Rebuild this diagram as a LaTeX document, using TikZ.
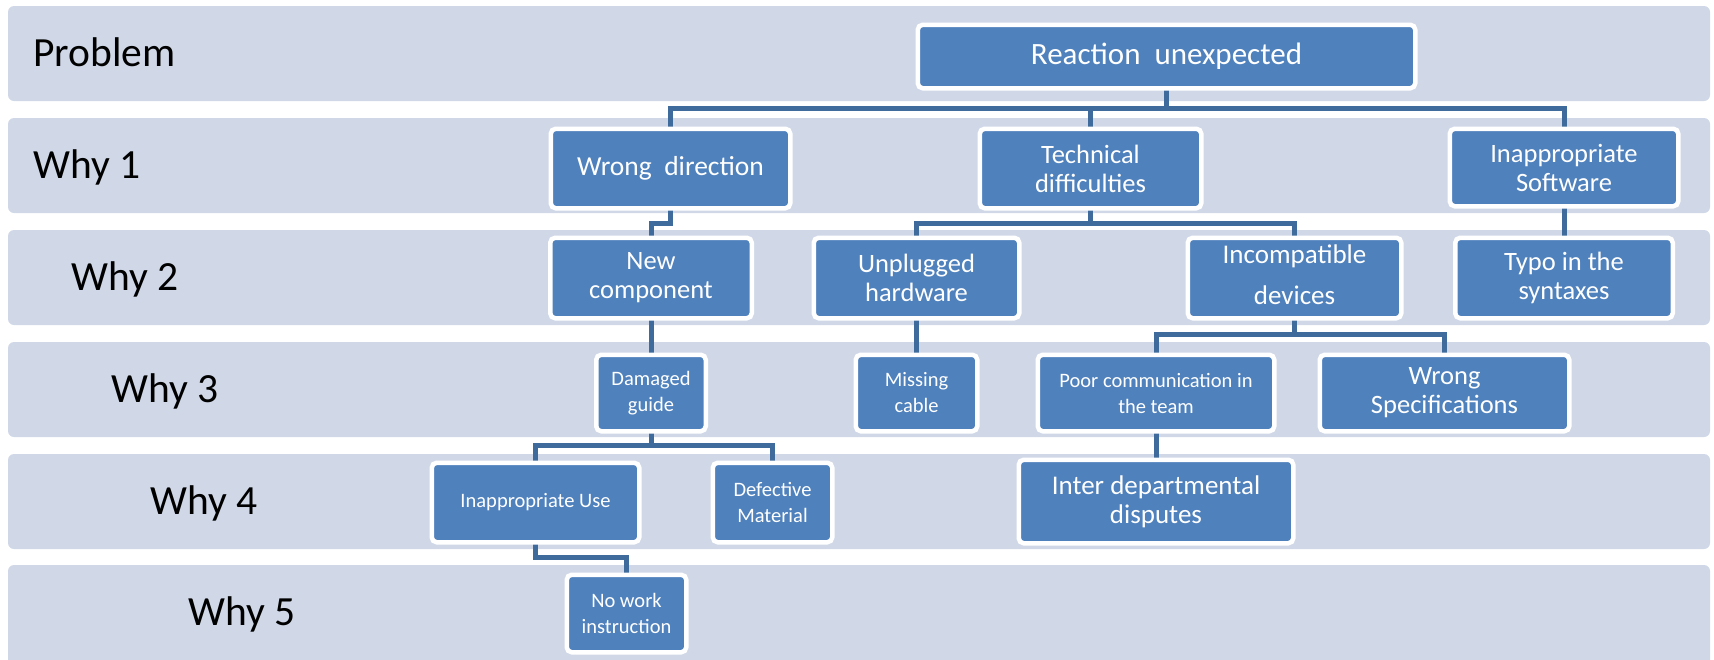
\documentclass[tikz,border=0pt]{standalone}
\usepackage{fontspec}
\setmainfont{Carlito}
\definecolor{bandfill}{RGB}{208,216,232}
\definecolor{boxfill}{RGB}{79,129,189}
\definecolor{linkcol}{RGB}{63,106,156}
\pgfdeclarelayer{bands}
\pgfdeclarelayer{links}
\pgfsetlayers{bands,links,main}

\begin{document}
\begin{tikzpicture}[x=1pt,y=-1pt,
  band/.style={fill=bandfill, draw=none, rounded corners=6pt},
  rowlabel/.style={anchor=base west, inner sep=0pt, text=black, font=\fontsize{41.5}{45}\selectfont},
  cause/.style={fill=boxfill, draw=white, line width=4.5pt, rounded corners=5pt,
                text=white, align=center, inner sep=0pt, font=\fontsize{26.5}{29}\selectfont},
  smalltext/.style={font=\fontsize{20.5}{26}\selectfont},
  link/.style={draw=linkcol, line width=5pt}
]
\useasboundingbox (0,0) rectangle (1714,659);
\clip (0,0) rectangle (1714,659);

% level bands
\begin{pgfonlayer}{bands}
  \fill[band] (8,6)   rectangle (1710,101);
  \fill[band] (8,118) rectangle (1710,213);
  \fill[band] (8,230) rectangle (1710,325);
  \fill[band] (8,342) rectangle (1710,437);
  \fill[band] (8,454) rectangle (1710,549);
  \fill[band] (8,565) rectangle (1710,668);
\end{pgfonlayer}

% level labels
\node[rowlabel] (lprob) at (33,66.5)  {Problem};
\node[rowlabel] (lwhy1) at (33,178.5) {Why 1};
\node[rowlabel] (lwhy2) at (71,290.5) {Why 2};
\node[rowlabel] (lwhy3) at (111,402.5) {Why 3};
\node[rowlabel] (lwhy4) at (150,514.5) {Why 4};
\node[rowlabel] (lwhy5) at (188,625.5) {Why 5};

% problem
\node[cause, minimum width=497.5pt, minimum height=63.5pt, font=\fontsize{31}{34}\selectfont]
  (reaction) at (1166.5,56.5) {Reaction\ \ unexpected};

% why 1
\node[cause, minimum width=239.5pt, minimum height=79.5pt, font=\fontsize{27.5}{30}\selectfont]
  (wrongdir) at (670.5,168.5) {Wrong\ \ direction};
\node[cause, minimum width=221.5pt, minimum height=79.5pt] (techdiff) at (1090.5,168.5) {Technical\\difficulties};
\node[cause, minimum width=228.5pt, minimum height=77.5pt] (inappsw) at (1564,167.5) {Inappropriate\\Software};

% why 2
\node[cause, minimum width=201.5pt, minimum height=80.5pt] (newcomp) at (651,278) {New\\component};
\node[cause, minimum width=205.5pt, minimum height=80.5pt] (unplugged) at (916.5,278) {Unplugged\\hardware};
\node[cause, minimum width=213.5pt, minimum height=80.5pt, font=\fontsize{27}{29}\selectfont]
  (incompat) at (1294.5,278)
  {\raisebox{5pt}{\begin{tabular}{@{}c@{}}Incompatible\\[12pt]devices\end{tabular}}};
\node[cause, minimum width=217.5pt, minimum height=80.5pt] (typo) at (1564,278) {Typo in the\\syntaxes};

% why 3
\node[cause, smalltext, minimum width=109.5pt, minimum height=76.5pt] (damaged) at (651,393) {Damaged\\guide};
\node[cause, smalltext, minimum width=121.5pt, minimum height=76.5pt] (missing) at (916.5,393) {Missing\\cable};
\node[cause, smalltext, minimum width=236.5pt, minimum height=76.5pt] (poorcomm) at (1156,393) {Poor communication in\\the team};
\node[cause, minimum width=249.5pt, minimum height=76.5pt] (wrongspec) at (1444.5,393) {Wrong\\Specifications};

% why 4
\node[cause, smalltext, minimum width=207.5pt, minimum height=79.5pt] (inappuse) at (535.5,502.5) {Inappropriate Use};
\node[cause, smalltext, minimum width=119.5pt, minimum height=79.5pt] (defective) at (772.5,502.5) {Defective\\Material};
\node[cause, minimum width=274.5pt, minimum height=83.5pt, font=\fontsize{27}{29}\selectfont]
  (interdept) at (1156,501.5) {Inter departmental\\disputes};

% why 5
\node[cause, smalltext, minimum width=119.5pt, minimum height=77.5pt] (nowork) at (626.5,613.5) {No work\\instruction};

% connectors
\coordinate (busA) at (0,108);
\coordinate (busB) at (0,223);
\coordinate (busC) at (0,334);
\coordinate (busD) at (0,445);
\coordinate (busE) at (0,557);
\begin{pgfonlayer}{links}
  \draw[link] (reaction.center) -- (reaction |- busA) -| (wrongdir.center);
  \draw[link] (reaction |- busA) -| (techdiff.center);
  \draw[link] (reaction |- busA) -| (inappsw.center);
  \draw[link] (wrongdir.center) -- (wrongdir |- busB) -| (newcomp.center);
  \draw[link] (techdiff.center) -- (techdiff |- busB) -| (unplugged.center);
  \draw[link] (techdiff |- busB) -| (incompat.center);
  \draw[link] (inappsw.center) -- (typo.center);
  \draw[link] (newcomp.center) -- (damaged.center);
  \draw[link] (unplugged.center) -- (missing.center);
  \draw[link] (incompat.center) -- (incompat |- busC) -| (poorcomm.center);
  \draw[link] (incompat |- busC) -| (wrongspec.center);
  \draw[link] (damaged.center) -- (damaged |- busD) -| (inappuse.center);
  \draw[link] (damaged |- busD) -| (defective.center);
  \draw[link] (poorcomm.center) -- (interdept.center);
  \draw[link] (inappuse.center) -- (inappuse |- busE) -| (nowork.center);
\end{pgfonlayer}
\end{tikzpicture}
\end{document}
